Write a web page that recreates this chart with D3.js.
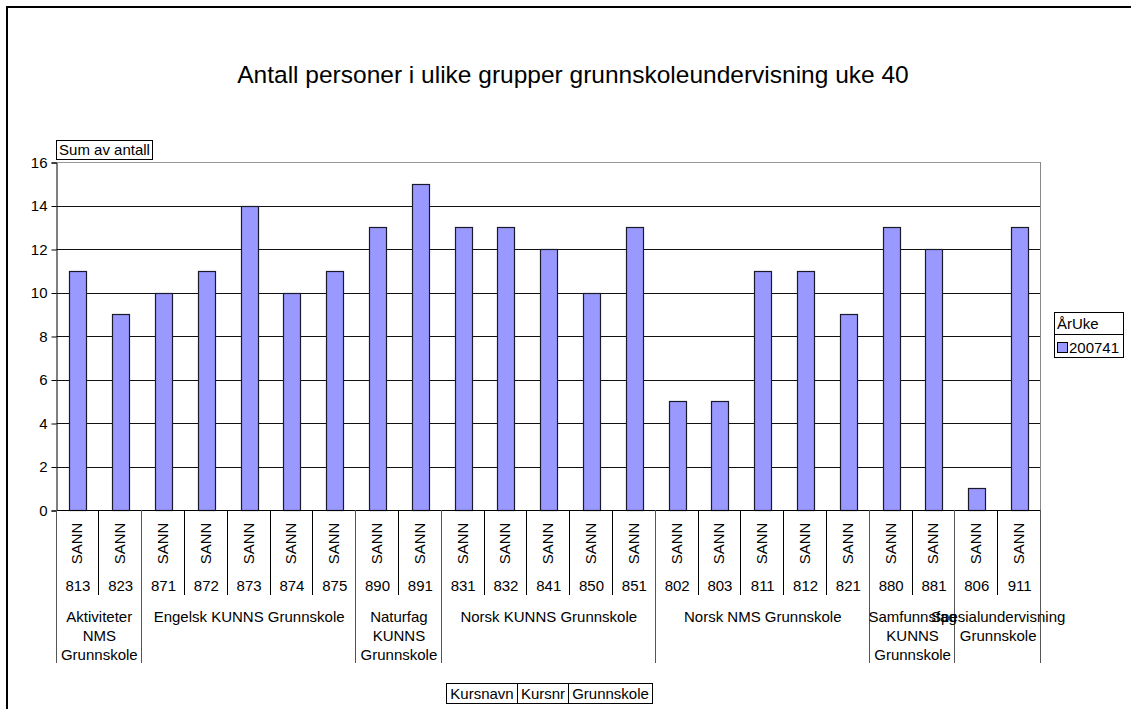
<!DOCTYPE html>
<html>
<head>
<meta charset="utf-8">
<script src="https://cdn.jsdelivr.net/npm/d3@7"></script>
<style>
  body { margin: 0; background: #fff; }
  text { font-family: Arial, "Liberation Sans", sans-serif; fill: #000; }
</style>
</head>
<body>
<script>
// data
var kursnr = ["813", "823", "871", "872", "873", "874", "875", "890", "891", "831", "832", "841",
              "850", "851", "802", "803", "811", "812", "821", "880", "881", "806", "911"];
var grunnskole = kursnr.map(function() { return "SANN"; });
var antall = [11, 9, 10, 11, 14, 10, 11, 13, 15, 13, 13, 12, 10, 13, 5, 5, 11, 11, 9, 13, 12, 1, 13];
var kursnavn = ["Aktiviteter NMS Grunnskole", "Engelsk KUNNS Grunnskole", "Naturfag KUNNS Grunnskole",
                "Norsk KUNNS Grunnskole", "Norsk NMS Grunnskole", "Samfunnsfag KUNNS Grunnskole",
                "Spesialundervisning Grunnskole"];
var gruppeStr = [2, 5, 2, 5, 5, 2, 2];
var yTicks = [0, 2, 4, 6, 8, 10, 12, 14, 16];
var tittel = "Antall personer i ulike grupper grunnskoleundervisning uke 40";
var serieNavn = "200741";

var W = 1131, H = 709;
var plot = { left: 56.5, right: 1041, top: 162, bottom: 510 };
var fs = "15px";

var svg = d3.select("body").append("svg")
    .attr("width", W)
    .attr("height", H);

// ytre ramme (går ut over høyre og nedre kant)
svg.append("rect")
    .attr("x", 7).attr("y", 7)
    .attr("width", W + 20).attr("height", H + 20)
    .attr("fill", "none").attr("stroke", "#000").attr("stroke-width", 2);

svg.append("text")
    .attr("x", 573).attr("y", 83)
    .attr("text-anchor", "middle")
    .style("font-size", "24.5px")
    .text(tittel);

var x = d3.scaleBand()
    .domain(d3.range(kursnr.length))
    .range([plot.left, plot.right]);

var y = d3.scaleLinear()
    .domain([0, 16])
    .range([plot.bottom, plot.top]);

// rutenett
svg.append("g")
    .selectAll("line")
    .data(yTicks.slice(1))
    .enter().append("line")
    .attr("x1", plot.left).attr("x2", plot.right)
    .attr("y1", function(d) { return Math.round(y(d)) + 0.5; })
    .attr("y2", function(d) { return Math.round(y(d)) + 0.5; })
    .attr("stroke", function(d) { return d == 16 ? "#999" : "#111"; })
    .attr("stroke-width", 1);

// høyre kant av plottet
svg.append("line")
    .attr("x1", plot.right - 0.5).attr("x2", plot.right - 0.5)
    .attr("y1", plot.top).attr("y2", plot.bottom)
    .attr("stroke", "#888");

// y-akse
var yAxis = d3.axisLeft(y).tickValues(yTicks).tickSize(5).tickPadding(4).tickFormat(d3.format("d"));
var gy = svg.append("g")
    .attr("transform", "translate(" + plot.left + ",0.5)")
    .call(yAxis);
gy.select(".domain").attr("stroke", "#000");
gy.selectAll(".tick line").attr("stroke", "#000");
gy.selectAll("text").style("font-size", fs).style("font-family", "Arial, 'Liberation Sans', sans-serif");

// søyler
var bw = 17;
svg.append("g")
    .selectAll(".bar")
    .data(antall)
    .enter().append("rect")
    .attr("class", "bar")
    .attr("x", function(d, i) { return Math.round(x(i) + x.bandwidth() / 2 - bw / 2) + 0.5; })
    .attr("width", bw)
    .attr("y", function(d) { return Math.round(y(d)) + 0.5; })
    .attr("height", function(d) { return Math.round(y(0)) - Math.round(y(d)); })
    .attr("fill", "#9999ff")
    .attr("stroke", "#1a1a2a")
    .attr("stroke-width", 1.2);

// x-akse linje
svg.append("line")
    .attr("x1", plot.left).attr("x2", plot.right)
    .attr("y1", plot.bottom + 0.5).attr("y2", plot.bottom + 0.5)
    .attr("stroke", "#000");

// kategori-etiketter
var kat = svg.append("g");
kat.selectAll(".sann")
    .data(grunnskole)
    .enter().append("text")
    .attr("transform", function(d, i) {
        return "translate(" + (x(i) + x.bandwidth() / 2 + 4.5) + ",543.5) rotate(-90)";
    })
    .attr("text-anchor", "middle")
    .style("font-size", fs)
    .text(function(d) { return d; });

kat.selectAll(".nr")
    .data(kursnr)
    .enter().append("text")
    .attr("x", function(d, i) { return x(i) + x.bandwidth() / 2; })
    .attr("y", 590.5)
    .attr("text-anchor", "middle")
    .style("font-size", fs)
    .text(function(d) { return d; });

// skillelinjer mellom kategorier og grupper
var grenser = [0];
gruppeStr.forEach(function(n, i) { grenser.push(grenser[i] + n); });

kat.selectAll(".sep")
    .data(d3.range(kursnr.length + 1))
    .enter().append("line")
    .attr("x1", function(i) { return Math.round(i < kursnr.length ? x(i) : plot.right) - 0.5; })
    .attr("x2", function(i) { return Math.round(i < kursnr.length ? x(i) : plot.right) - 0.5; })
    .attr("y1", plot.bottom)
    .attr("y2", function(i) { return grenser.indexOf(i) >= 0 ? 663 : 595; })
    .attr("stroke", function(i) { return grenser.indexOf(i) >= 0 ? "#555" : "#000"; });

// gruppenavn med linjebryting
kursnavn.forEach(function(navn, g) {
    var x0 = x(grenser[g]);
    var x1 = grenser[g + 1] < kursnr.length ? x(grenser[g + 1]) : plot.right;
    var maxW = x1 - x0 - 4;
    var t = kat.append("text")
        .attr("text-anchor", "middle")
        .style("font-size", fs);
    var words = navn.split(" "), lines = [], line = [];
    words.forEach(function(w) {
        line.push(w);
        t.text(line.join(" "));
        if (t.node().getComputedTextLength() > maxW && line.length > 1) {
            line.pop();
            lines.push(line.join(" "));
            line = [w];
        }
    });
    lines.push(line.join(" "));
    t.text(null);
    lines.forEach(function(l, k) {
        t.append("tspan")
            .attr("x", (x0 + x1) / 2)
            .attr("y", 621.5 + k * 19)
            .text(l);
    });
});

// feltknapper
function knapp(xp, yp, w, h, tekst) {
    svg.append("rect")
        .attr("x", xp + 0.5).attr("y", yp + 0.5)
        .attr("width", w).attr("height", h)
        .attr("fill", "#fff").attr("stroke", "#000");
    svg.append("text")
        .attr("x", xp + w / 2 + 0.5).attr("y", yp + h / 2 + 5.5)
        .attr("text-anchor", "middle")
        .style("font-size", fs)
        .text(tekst);
}
knapp(56, 140, 96, 19, "Sum av antall");

var felter = ["Kursnavn", "Kursnr", "Grunnskole"];
var feltBredde = [71, 51, 84];
var fx = 446;
felter.forEach(function(f, i) {
    knapp(fx, 683, feltBredde[i], 20, f);
    fx += feltBredde[i];
});

// tegnforklaring
var leg = svg.append("g");
leg.append("rect")
    .attr("x", 1054.5).attr("y", 312.5).attr("width", 69).attr("height", 45)
    .attr("fill", "#fff").attr("stroke", "#000");
leg.append("line")
    .attr("x1", 1054.5).attr("x2", 1123.5).attr("y1", 334.5).attr("y2", 334.5)
    .attr("stroke", "#000");
leg.append("text")
    .attr("x", 1057).attr("y", 329)
    .style("font-size", fs)
    .text("ÅrUke");
leg.append("rect")
    .attr("x", 1057.5).attr("y", 342.5).attr("width", 10).attr("height", 10)
    .attr("fill", "#9999ff").attr("stroke", "#000");
leg.append("text")
    .attr("x", 1069).attr("y", 352.5)
    .style("font-size", fs)
    .text(serieNavn);
</script>
</body>
</html>
